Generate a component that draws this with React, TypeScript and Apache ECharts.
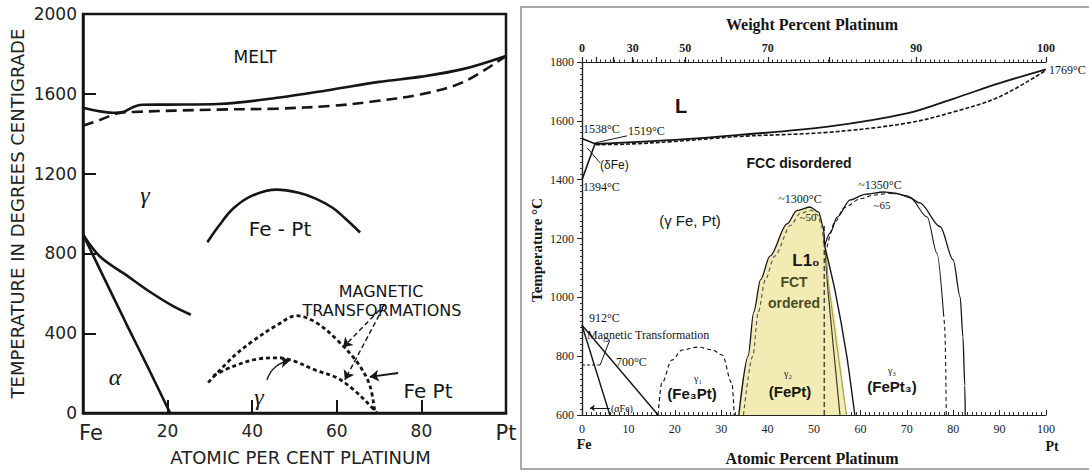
import React, { useEffect, useRef } from "react";
import * as echarts from "echarts";

// ---------- Left diagram (atomic % Pt, °C) ----------
const L_X_TICKS = [0, 20, 40, 60, 80, 100];
const L_LIQUIDUS = [[0, 1530], [4, 1512], [7, 1505], [9.5, 1509], [11.8, 1533], [14, 1545], [20, 1546], [32, 1549], [46, 1580], [59, 1622], [70, 1660], [80, 1686], [90, 1725], [100, 1790]];
const L_SOLIDUS = [[0, 1440], [4, 1469], [8, 1501], [11.8, 1509], [32, 1521], [46, 1526], [59, 1540], [68, 1560], [80, 1598], [90, 1660], [100, 1790]];
const L_GAMMA_A = [[0, 895], [4, 785], [10.4, 689], [15.8, 608], [21.3, 536], [25.5, 493]];
const L_ALPHA_B = [[0, 895], [4, 720], [10.3, 445], [15.8, 210], [20.6, 0]];
const L_ORDER = [[29.4, 856], [32, 935], [35.5, 1025], [40, 1090], [45.8, 1120], [51, 1104], [55, 1075], [59, 1029], [62, 975], [65.5, 905]];
const L_MAG_UPPER = [[29.6, 153], [35.5, 282], [40, 359], [45.8, 440], [50.5, 488], [55, 455], [60, 368], [65, 249], [67.8, 139], [69, 0]];
const L_MAG_LOWER = [[30.8, 187], [35.5, 234], [41.8, 273], [45.8, 277], [49.6, 263], [55, 215], [60, 177], [63.8, 120], [67, 57], [69.5, 0]];
const L_MAG_POINTERS = [[[71.4, 545], [61.5, 330]], [[70.9, 526], [61.9, 167]]];
const L_FEPT_POINTER = [[74.5, 201], [67.8, 182]];
const L_GAMMA_POINTER = [[43.5, 167], [48.9, 263]];

// ---------- Right diagram (atomic % Pt, °C) ----------
const WT_TICKS = [0, 10, 20, 30, 40, 50, 60, 70, 80, 90, 100];
const WT_LABELS = [0, 30, 50, 70, 90, 100];
const R_LIQ_DELTA = [[0, 1540], [2.8, 1522]];
const R_LIQUIDUS = [[2.8, 1522], [5, 1523], [20, 1535], [34, 1552], [53, 1580], [70, 1625], [80, 1675], [90, 1728], [100, 1775]];
const R_SOLIDUS = [[3, 1519], [10, 1521], [20, 1530], [34, 1547], [53, 1561], [70, 1592], [80, 1630], [90, 1682], [100, 1772]];
const R_DELTA = [[0, 1400], [2.8, 1522]];
const R_1519_LEADER = [[2.8, 1525], [9.7, 1549]];
const R_DFE_LEADER = [[3.9, 1457], [1.1, 1508]];
const R_ALPHA = [[0, 905], [6, 600]];
const R_GAMMA = [[0, 905], [16.4, 600]];
const R_MAG = [[0, 770], [3.9, 770]];
const R_MAG_LEADER = [[3.9, 770], [6, 855]];
const R_AFE_POINTER = [[6, 624], [1.7, 624]];
const R_FE3PT = [[16.4, 600], [17.2, 709], [19.4, 787], [21.6, 821], [25, 831], [28, 822], [30.2, 804], [32.3, 709], [32.8, 600]];
const R_L10_FILL = [[33.6, 600], [35.8, 800], [37, 950], [38.5, 1060], [40.5, 1140], [44.2, 1250], [46.3, 1295], [49.1, 1307], [51, 1290], [52, 1240], [52.3, 1175], [52.6, 1150], [53.3, 1025], [57, 600]];
const R_L10_OUTER = [[33.8, 600], [35.8, 800], [37, 950], [38.5, 1060], [40.5, 1140], [44.2, 1250], [46.3, 1295], [49.1, 1307], [51, 1290], [52, 1240], [52.3, 1175]];
const R_L10_INNER = [[34.8, 600], [36.8, 800], [38, 950], [39.5, 1060], [41.5, 1140], [45, 1245], [47, 1285], [49.3, 1296], [50.8, 1280], [51.7, 1240], [52.1, 1180]];
const R_L10_RIGHT_A = [[52.4, 1160], [53, 1025], [55.6, 600]];
const R_L10_RIGHT_B = [[52.6, 1150], [53.3, 1025], [57, 600]];
const R_L10_MID = [[52.2, 600], [52.2, 1250]];
const R_FEPT3_EDGE = [[52.3, 1175], [54.5, 1025], [57.1, 797], [58.8, 600]];
const R_FEPT3_OUTER = [[52.3, 1175], [53.5, 1219], [55, 1273], [57.8, 1331], [61, 1350], [65, 1358], [67, 1355], [70, 1345], [72.8, 1321], [77.2, 1240], [80, 1127], [81.5, 1001], [82.1, 865], [82.5, 700], [82.6, 600]];
const R_FEPT3_INNER_L = [[52.8, 1170], [54.5, 1255], [56.5, 1305], [60, 1335], [63, 1348], [66, 1354]];
const R_FEPT3_INNER_M = [[66, 1354], [68, 1352], [70.7, 1338], [74.4, 1273], [76.5, 1150], [77.9, 947]];
const R_FEPT3_INNER_B = [[77.9, 947], [78.2, 889], [78.4, 750], [78.5, 600]];

const FL = '"DejaVu Sans", sans-serif';
const SERIF = '"Liberation Serif", "DejaVu Serif", serif';
const SANS = '"Liberation Sans", Arial, sans-serif';
const INK = "#151515";

const toAt = (wt: number) => {
  const a = wt / 195.08;
  const b = (100 - wt) / 55.845;
  return (a / (a + b)) * 100;
};
const toWt = (at: number) => {
  const a = at * 195.08;
  const b = (100 - at) * 55.845;
  return (a / (a + b)) * 100;
};

function ln(data: number[][], grid: number, o: any = {}) {
  return {
    type: "line",
    data,
    xAxisIndex: grid === 0 ? 0 : 1,
    yAxisIndex: grid === 0 ? 0 : 1,
    showSymbol: false,
    symbol: "none",
    silent: true,
    smooth: o.smooth ?? 0.35,
    smoothMonotone: o.mono ?? undefined,
    z: o.z ?? 3,
    lineStyle: {
      color: o.color ?? INK,
      width: o.width ?? (grid === 0 ? 2.6 : 1.3),
      type: o.type ?? "solid",
      cap: "butt",
    },
    areaStyle: o.area ? { color: o.area, opacity: 1, origin: "start" } : undefined,
  };
}

function arrows(list: number[][][], grid: number, o: any = {}) {
  return {
    type: "lines",
    coordinateSystem: "cartesian2d",
    xAxisIndex: grid === 0 ? 0 : 1,
    yAxisIndex: grid === 0 ? 0 : 1,
    silent: true,
    symbol: o.symbol ?? ["none", "arrow"],
    symbolSize: o.size ?? 9,
    z: 5,
    lineStyle: { color: INK, width: o.width ?? 1.6, type: o.type ?? "solid", curveness: o.curveness ?? 0, opacity: 1 },
    data: list.map((c) => ({ coords: c })),
  };
}

function txt(text: string, x: number, y: number, o: any = {}) {
  return {
    type: "text",
    x,
    y,
    rotation: o.rotation ?? 0,
    z: 10,
    style: {
      text,
      fill: o.color ?? INK,
      fontSize: o.size ?? 14,
      fontFamily: o.family ?? FL,
      fontWeight: o.weight ?? "normal",
      fontStyle: o.style ?? "normal",
      align: o.align ?? "center",
      verticalAlign: "middle",
    },
  };
}

const option: any = {
  animation: false,
  backgroundColor: "#ffffff",
  grid: [
    { left: 83, top: 14, width: 423, height: 418, show: true, borderColor: INK, borderWidth: 2.5, backgroundColor: "transparent" },
    { left: 582, top: 62, width: 464, height: 353, show: false },
  ],
  xAxis: [
    {
      gridIndex: 0, type: "value", min: 0, max: 100, interval: 20,
      axisLine: { lineStyle: { color: INK, width: 2.5 } },
      axisTick: { inside: true, length: 13, lineStyle: { color: INK, width: 2 } },
      axisLabel: {
        margin: 9, fontFamily: FL, fontSize: 17, color: "#222",
        formatter: (v: number) => (v === 0 ? "{f|Fe}" : v === 100 ? "{p|Pt}" : String(v)),
        rich: {
          f: { fontFamily: FL, fontSize: 21, color: "#222", padding: [0, 0, 0, 16] },
          p: { fontFamily: FL, fontSize: 21, color: "#222" },
        },
        customValues: L_X_TICKS,
      },
      splitLine: { show: false },
      name: "ATOMIC PER CENT PLATINUM", nameLocation: "middle", nameGap: 31,
      nameTextStyle: { fontFamily: FL, fontSize: 18, color: "#222", padding: [0, 0, 0, 12] },
    },
    {
      gridIndex: 1, type: "value", min: 0, max: 100, interval: 10, position: "bottom",
      axisLine: { lineStyle: { color: "#222", width: 1.2 } },
      axisTick: { inside: true, length: 5, lineStyle: { color: "#222", width: 1 } },
      minorTick: { show: true, splitNumber: 10, length: 3, lineStyle: { color: "#333", width: 1 } },
      axisLabel: { margin: 8, fontFamily: SERIF, fontSize: 12, color: "#222" },
      splitLine: { show: false },
    },
    {
      gridIndex: 1, type: "value", min: 0, max: 100, position: "top",
      axisLine: { lineStyle: { color: "#222", width: 1.2 } },
      axisTick: { inside: false, length: 5, customValues: WT_TICKS.map(toAt), lineStyle: { color: "#222", width: 1.2 } },
      axisLabel: {
        margin: 8, fontFamily: SERIF, fontSize: 12, fontWeight: "bold", color: "#222",
        customValues: WT_LABELS.map(toAt),
        formatter: (v: number) => String(Math.round(toWt(v))),
      },
      splitLine: { show: false },
    },
    {
      gridIndex: 1, type: "value", min: 0, max: 100, interval: 10, position: "top",
      axisLine: { show: false },
      axisTick: { show: false },
      minorTick: { show: true, splitNumber: 10, length: 2.5, lineStyle: { color: "#333", width: 1 } },
      axisLabel: { show: false },
      splitLine: { show: false },
    },
  ],
  yAxis: [
    {
      gridIndex: 0, type: "value", min: 0, max: 2000, interval: 400,
      axisLine: { lineStyle: { color: INK, width: 2.5 } },
      axisTick: { inside: true, length: 13, lineStyle: { color: INK, width: 2 } },
      axisLabel: { margin: 6, fontFamily: FL, fontSize: 17, color: "#222", formatter: (v: number) => String(v) },
      splitLine: { show: false },
      name: "TEMPERATURE IN DEGREES CENTIGRADE", nameLocation: "middle", nameGap: 57, nameRotate: 90,
      nameTextStyle: { fontFamily: FL, fontSize: 18, color: "#222" },
    },
    {
      gridIndex: 1, type: "value", min: 600, max: 1800, interval: 200, position: "left",
      axisLine: { lineStyle: { color: "#222", width: 1.2 } },
      axisTick: { inside: false, length: 4, lineStyle: { color: "#222", width: 1 } },
      minorTick: { show: true, splitNumber: 10, length: 2, lineStyle: { color: "#333", width: 1 } },
      axisLabel: { margin: 8, fontFamily: SERIF, fontSize: 12, color: "#222", formatter: (v: number) => String(v) },
      splitLine: { show: false },
    },
    {
      gridIndex: 1, type: "value", min: 600, max: 1800, interval: 200, position: "right",
      axisLine: { lineStyle: { color: "#222", width: 1.2 } },
      axisTick: { inside: true, length: 5, lineStyle: { color: "#222", width: 1 } },
      minorTick: { show: true, splitNumber: 10, length: 2, lineStyle: { color: "#333", width: 1 } },
      axisLabel: { show: false },
      splitLine: { show: false },
    },
  ],
  series: [
    // left diagram
    ln(L_LIQUIDUS, 0),
    ln(L_SOLIDUS, 0, { type: [11, 6] }),
    ln(L_GAMMA_A, 0),
    ln(L_ALPHA_B, 0, { smooth: 0.2 }),
    ln(L_ORDER, 0),
    ln(L_MAG_UPPER, 0, { type: [4, 3], width: 2.8 }),
    ln(L_MAG_LOWER, 0, { type: [4, 3], width: 2.8 }),
    arrows(L_MAG_POINTERS, 0, { type: [5, 3], width: 1.4 }),
    arrows([L_FEPT_POINTER], 0, { width: 1.8 }),
    arrows([L_GAMMA_POINTER], 0, { width: 1.4, curveness: 0.3 }),
    // right diagram
    ln(R_L10_FILL, 1, { area: "#f3ebb4", width: 0, color: "#f3ebb4", z: 1, mono: "x", smooth: 0.3 }),
    ln(R_LIQ_DELTA, 1, { smooth: 0, width: 1.6 }),
    ln(R_LIQUIDUS, 1, { width: 1.8 }),
    ln(R_SOLIDUS, 1, { type: [4, 2], width: 1.6 }),
    ln(R_DELTA, 1, { smooth: 0, width: 1.6 }),
    ln(R_1519_LEADER, 1, { smooth: 0, width: 1 }),
    ln(R_DFE_LEADER, 1, { smooth: 0, width: 1 }),
    ln(R_ALPHA, 1, { smooth: 0, width: 1.4 }),
    ln(R_GAMMA, 1, { smooth: 0, width: 1.4 }),
    ln(R_MAG, 1, { smooth: 0, type: [3, 2], width: 1.2 }),
    ln(R_MAG_LEADER, 1, { smooth: 0, width: 1 }),
    arrows([R_AFE_POINTER], 1, { width: 1, size: 5 }),
    ln(R_FE3PT, 1, { type: [4, 3], width: 1.2, mono: "x" }),
    ln(R_L10_OUTER, 1, { mono: "x", smooth: 0.3 }),
    ln(R_L10_INNER, 1, { type: [4, 3], width: 1.1, color: "#555", mono: "x", smooth: 0.3 }),
    ln(R_L10_RIGHT_A, 1, { smooth: 0.2, width: 1.2, color: "#3a3a2a" }),
    ln(R_L10_RIGHT_B, 1, { smooth: 0.2, width: 1.2, color: "#a89f4e" }),
    ln(R_L10_MID, 1, { smooth: 0, type: [5, 3], width: 1.1 }),
    ln(R_FEPT3_EDGE, 1, { smooth: 0.2, width: 1.4 }),
    ln(R_FEPT3_OUTER, 1, { mono: "x", smooth: 0.3 }),
    ln(R_FEPT3_INNER_L, 1, { type: [4, 3], width: 1.1, mono: "x", smooth: 0.3 }),
    ln(R_FEPT3_INNER_M, 1, { width: 1.1, mono: "x", smooth: 0.3 }),
    ln(R_FEPT3_INNER_B, 1, { type: [4, 3], width: 1.1, smooth: 0.2 }),
  ],
  graphic: [
    { type: "rect", z: -1, shape: { x: 521, y: 7, width: 600, height: 462 }, style: { fill: "none", stroke: "#8c8c8c", lineWidth: 1.5 } },
    // left diagram texts
    txt("MELT", 255, 57, { size: 17 }),
    txt("γ", 145, 195, { size: 24, family: SERIF, style: "italic" }),
    txt("Fe - Pt", 280, 229, { size: 20 }),
    txt("α", 115, 377, { size: 24, family: SERIF, style: "italic" }),
    txt("MAGNETIC", 381, 291, { size: 16 }),
    txt("TRANSFORMATIONS", 382, 310, { size: 16 }),
    txt("Fe Pt", 428, 391, { size: 20 }),
    txt("γ", 259, 397, { size: 24, family: SERIF, style: "italic" }),
    // right diagram texts
    txt("Weight Percent Platinum", 812, 24, { size: 16, family: SERIF, weight: "bold" }),
    txt("Atomic Percent Platinum", 812, 458, { size: 16, family: SERIF, weight: "bold" }),
    txt("Temperature °C", 537, 250, { size: 15, family: SERIF, weight: "bold", rotation: Math.PI / 2 }),
    txt("Fe", 584, 444, { size: 14, family: SERIF, weight: "bold" }),
    txt("Pt", 1052, 446, { size: 14, family: SERIF, weight: "bold" }),
    txt("1769°C", 1049, 70, { size: 12, family: SERIF, align: "left" }),
    txt("L", 681, 106, { size: 20, family: SANS, weight: "bold" }),
    txt("FCC disordered", 799, 163, { size: 14, family: SANS, weight: "bold" }),
    txt("(γ Fe, Pt)", 690, 220, { size: 15, family: SANS }),
    txt("1538°C", 583, 129, { size: 12, family: SERIF, align: "left" }),
    txt("1519°C", 628, 131, { size: 12, family: SERIF, align: "left" }),
    txt("(δFe)", 600, 165, { size: 12, family: SANS, align: "left" }),
    txt("1394°C", 583, 187, { size: 12, family: SERIF, align: "left" }),
    txt("912°C", 589, 318, { size: 12, family: SERIF, align: "left" }),
    txt("Magnetic Transformation", 587, 335, { size: 12, family: SERIF, align: "left" }),
    txt("700°C", 616, 362, { size: 12, family: SERIF, align: "left" }),
    txt("(αFe)", 611, 408, { size: 10, family: SERIF, align: "left" }),
    txt("γ₁", 698, 378, { size: 10, family: SERIF }),
    txt("(Fe₃Pt)", 692, 393, { size: 15, family: SANS, weight: "bold" }),
    txt("~1300°C", 800, 199, { size: 12, family: SERIF }),
    txt("~50", 808, 217, { size: 11, family: SERIF }),
    txt("~1350°C", 880, 185, { size: 12, family: SERIF }),
    txt("~65", 882, 205, { size: 11, family: SERIF }),
    txt("L1₀", 806, 260, { size: 17, family: SANS, weight: "bold" }),
    txt("FCT", 794, 282, { size: 14, family: SANS, weight: "bold", color: "#4a4a22" }),
    txt("ordered", 794, 303, { size: 14, family: SANS, weight: "bold", color: "#4a4a22" }),
    txt("γ₂", 788, 373, { size: 10, family: SERIF }),
    txt("(FePt)", 790, 391, { size: 15, family: SANS, weight: "bold" }),
    txt("γ₃", 892, 370, { size: 10, family: SERIF }),
    txt("(FePt₃)", 892, 386, { size: 15, family: SANS, weight: "bold" }),
  ],
};

export default function App() {
  const ref = useRef<HTMLDivElement>(null);
  useEffect(() => {
    const chart = echarts.init(ref.current!, null, { renderer: "svg" });
    chart.setOption(option);
    return () => chart.dispose();
  }, []);
  return (
    <div
      ref={ref}
      style={{ position: "fixed", left: 0, top: 0, width: 1089, height: 471, background: "#fff" }}
    />
  );
}
